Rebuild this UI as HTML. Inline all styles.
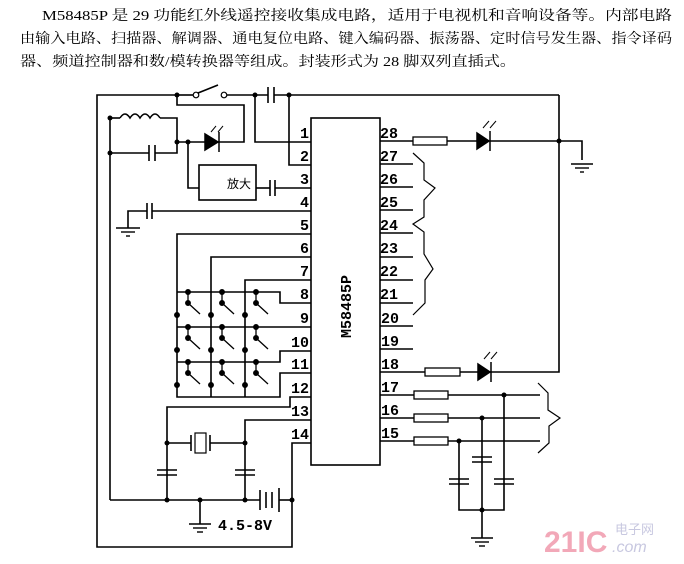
<!DOCTYPE html>
<html><head><meta charset="utf-8"><style>
html,body{margin:0;padding:0;background:#fff;width:684px;height:564px;overflow:hidden}
svg{display:block}
.t{font-family:"Liberation Serif","Noto Serif CJK SC","Noto Sans CJK SC",serif;font-size:14px;fill:#000}
.p{font-family:"Liberation Mono","DejaVu Sans Mono",monospace;font-size:15px;font-weight:bold;fill:#000}
</style></head><body>
<svg width="684" height="564" viewBox="0 0 684 564" xmlns="http://www.w3.org/2000/svg">
<text class="t" x="42" y="20" textLength="630" lengthAdjust="spacingAndGlyphs">M58485P 是 29 功能红外线遥控接收集成电路，适用于电视机和音响设备等。内部电路</text>
<text class="t" x="20" y="43" textLength="652" lengthAdjust="spacingAndGlyphs">由输入电路、扫描器、解调器、通电复位电路、键入编码器、振荡器、定时信号发生器、指令译码</text>
<text class="t" x="20" y="66" textLength="496" lengthAdjust="spacingAndGlyphs">器、频道控制器和数/模转换器等组成。封装形式为 28 脚双列直插式。</text>

<g stroke="#000" stroke-width="1.6" fill="none">
<rect x="311" y="118" width="69" height="347"/>
<polyline points="177,95 97,95 97,547 292,547 292,443 311,443"/>
<line x1="177" y1="95" x2="193" y2="95"/>
<line x1="198" y1="93" x2="218" y2="85"/>
<circle cx="196" cy="95" r="2.8" stroke-width="1.2"/>
<circle cx="224" cy="95" r="2.8" stroke-width="1.2"/>
<line x1="227" y1="95" x2="268" y2="95"/>
<line x1="268" y1="87" x2="268" y2="103"/><line x1="274" y1="87" x2="274" y2="103"/>
<line x1="274" y1="95" x2="559" y2="95"/>
<polyline points="255,95 255,142 311,142"/>
<polyline points="289,95 289,165 311,165"/>
<polyline points="177,95 177,105 244,105 244,142 218,142"/>
<polyline points="110,118 110,500"/>
<line x1="110" y1="118" x2="120" y2="118"/>
<path d="M120,118 q5,-8 10,0 q5,-8 10,0 q5,-8 10,0 q5,-8 10,0"/>
<polyline points="160,118 177,118 177,153 155,153"/>
<line x1="110" y1="153" x2="149" y2="153"/>
<line x1="149" y1="145" x2="149" y2="161"/><line x1="155" y1="145" x2="155" y2="161"/>
<line x1="177" y1="142" x2="205" y2="142"/>
<polyline points="188,142 188,188 199,188"/>
<rect x="199" y="165" width="57" height="35"/>
<line x1="256" y1="188" x2="270" y2="188"/>
<line x1="270" y1="180" x2="270" y2="196"/><line x1="275" y1="180" x2="275" y2="196"/>
<line x1="275" y1="188" x2="311" y2="188"/>
<line x1="311" y1="211" x2="152" y2="211"/>
<line x1="152" y1="203" x2="152" y2="219"/><line x1="147" y1="203" x2="147" y2="219"/>
<polyline points="147,211 128,211 128,228"/>
<polyline points="311,234 177,234 177,397 280,397 280,373 311,373"/>
<polyline points="311,257 211,257 211,397"/>
<polyline points="311,280 245,280 245,397"/>
<polyline points="177,292 280,292 280,303 311,303"/>
<line x1="177" y1="327" x2="311" y2="327"/>
<polyline points="177,362 280,362 280,351 311,351"/>
<polyline points="311,397 290,397 290,407 167,407 167,500"/>
<polyline points="311,420 245,420 245,443"/>
<line x1="167" y1="443" x2="191" y2="443"/><line x1="210" y1="443" x2="245" y2="443"/>
<line x1="191" y1="435" x2="191" y2="451"/><line x1="210" y1="435" x2="210" y2="451"/>
<rect x="195" y="433" width="11" height="20" stroke-width="1.2"/>
<line x1="245" y1="443" x2="245" y2="500"/>
<line x1="157" y1="470" x2="177" y2="470"/><line x1="157" y1="475" x2="177" y2="475"/>
<line x1="235" y1="470" x2="255" y2="470"/><line x1="235" y1="475" x2="255" y2="475"/>
<line x1="110" y1="500" x2="260" y2="500"/>
<line x1="260" y1="490" x2="260" y2="510"/><line x1="266" y1="492" x2="266" y2="508"/><line x1="272" y1="492" x2="272" y2="508"/><line x1="279" y1="488" x2="279" y2="512"/>
<line x1="279" y1="500" x2="292" y2="500"/>
<line x1="200" y1="500" x2="200" y2="524"/>
<line x1="380" y1="141" x2="413" y2="141"/>
<line x1="447" y1="141" x2="477" y2="141"/>
<polyline points="490,141 582,141 582,160"/>
<polyline points="559,95 559,372 490,372"/>
<line x1="380" y1="372" x2="425" y2="372"/><line x1="460" y1="372" x2="478" y2="372"/>
<line x1="380" y1="395" x2="414" y2="395"/><line x1="448" y1="395" x2="540" y2="395"/>
<line x1="380" y1="418" x2="414" y2="418"/><line x1="448" y1="418" x2="540" y2="418"/>
<line x1="380" y1="441" x2="414" y2="441"/><line x1="448" y1="441" x2="540" y2="441"/>
<line x1="380" y1="164" x2="413" y2="164"/><line x1="380" y1="187" x2="413" y2="187"/>
<line x1="380" y1="210" x2="413" y2="210"/><line x1="380" y1="233" x2="413" y2="233"/>
<line x1="380" y1="257" x2="413" y2="257"/><line x1="380" y1="280" x2="413" y2="280"/>
<line x1="380" y1="303" x2="413" y2="303"/><line x1="380" y1="326" x2="413" y2="326"/>
<line x1="380" y1="349" x2="413" y2="349"/>
<path d="M413,153 L424,163 L424,180 L435,188 L424,200 L424,217 L413,224 L424,232 L424,254 L433,269 L425,280 L425,303 L413,315" stroke-width="1.2"/>
<path d="M538,383 L548,393 L548,410 L560,418 L549,426 L549,443 L538,453" stroke-width="1.2"/>
<rect x="413" y="137" width="34" height="8" stroke-width="1.3"/>
<rect x="425" y="368" width="35" height="8" stroke-width="1.3"/>
<rect x="414" y="391" width="34" height="8" stroke-width="1.3"/>
<rect x="414" y="414" width="34" height="8" stroke-width="1.3"/>
<rect x="414" y="437" width="34" height="8" stroke-width="1.3"/>
<polyline points="459,441 459,510 504,510 504,395"/>
<line x1="482" y1="418" x2="482" y2="538"/>
<line x1="449" y1="479" x2="469" y2="479"/><line x1="449" y1="484" x2="469" y2="484"/>
<line x1="472" y1="457" x2="492" y2="457"/><line x1="472" y1="462" x2="492" y2="462"/>
<line x1="494" y1="479" x2="514" y2="479"/><line x1="494" y1="484" x2="514" y2="484"/>
</g>
<g stroke="#000" stroke-width="1.4">
<line x1="116" y1="228" x2="140" y2="228"/><line x1="121" y1="232" x2="135" y2="232"/><line x1="126" y1="236" x2="130" y2="236"/>
<line x1="571" y1="164" x2="593" y2="164"/><line x1="575" y1="168" x2="589" y2="168"/><line x1="580" y1="172" x2="584" y2="172"/>
<line x1="189" y1="524" x2="211" y2="524"/><line x1="193" y1="528" x2="207" y2="528"/><line x1="197" y1="532" x2="203" y2="532"/>
<line x1="471" y1="538" x2="493" y2="538"/><line x1="475" y1="542" x2="489" y2="542"/><line x1="479" y1="546" x2="485" y2="546"/>
</g>
<g fill="#000" stroke="#000" stroke-width="1.5">
<polygon points="205,134 205,150 218,142"/><line x1="219" y1="132" x2="219" y2="152"/>
<polygon points="477,133 477,149 489,141"/><line x1="490" y1="131" x2="490" y2="151"/>
<polygon points="478,364 478,380 490,372"/><line x1="491" y1="362" x2="491" y2="382"/>
<g stroke-width="1"><line x1="211" y1="132" x2="216" y2="126"/><line x1="218" y1="132" x2="223" y2="126"/>
<line x1="483" y1="128" x2="489" y2="121"/><line x1="490" y1="128" x2="496" y2="121"/>
<line x1="484" y1="359" x2="490" y2="352"/><line x1="491" y1="359" x2="497" y2="352"/></g>
</g>
<g fill="#000">
<circle cx="177" cy="95" r="2.5"/><circle cx="255" cy="95" r="2.5"/><circle cx="289" cy="95" r="2.5"/>
<circle cx="110" cy="118" r="2.5"/><circle cx="110" cy="153" r="2.5"/><circle cx="177" cy="142" r="2.5"/><circle cx="188" cy="142" r="2.5"/>
<circle cx="559" cy="141" r="2.5"/>
<circle cx="167" cy="443" r="2.5"/><circle cx="245" cy="443" r="2.5"/>
<circle cx="167" cy="500" r="2.5"/><circle cx="200" cy="500" r="2.5"/><circle cx="245" cy="500" r="2.5"/><circle cx="292" cy="500" r="2.5"/>
<circle cx="459" cy="441" r="2.5"/><circle cx="482" cy="418" r="2.5"/><circle cx="504" cy="395" r="2.5"/><circle cx="482" cy="510" r="2.5"/>
</g>
<g stroke="#000" stroke-width="1.3" fill="#000">
<g id="sw"><circle cx="188" cy="292" r="2.3"/><line x1="188" y1="292" x2="188" y2="302"/><circle cx="188" cy="303" r="2.3"/><line x1="188" y1="303" x2="200" y2="314"/><circle cx="177" cy="315" r="2.3"/></g>
<use href="#sw" x="34" y="0"/><use href="#sw" x="68" y="0"/>
<use href="#sw" x="0" y="35"/><use href="#sw" x="34" y="35"/><use href="#sw" x="68" y="35"/>
<use href="#sw" x="0" y="70"/><use href="#sw" x="34" y="70"/><use href="#sw" x="68" y="70"/>
</g>
<text x="227" y="188" font-family="'Noto Sans CJK SC',sans-serif" font-size="12">放大</text>
<text x="218" y="530" class="p" font-size="14">4.5-8V</text>
<text class="p" transform="translate(351,338) rotate(-90)">M58485P</text>
<g class="p" text-anchor="end">
<text x="309" y="138">1</text><text x="309" y="161">2</text><text x="309" y="184">3</text><text x="309" y="207">4</text>
<text x="309" y="230">5</text><text x="309" y="253">6</text><text x="309" y="276">7</text><text x="309" y="299">8</text>
<text x="309" y="323">9</text><text x="309" y="347">10</text><text x="309" y="369">11</text><text x="309" y="393">12</text>
<text x="309" y="416">13</text><text x="309" y="439">14</text>
</g>
<g class="p">
<text x="380" y="138">28</text><text x="380" y="161">27</text><text x="380" y="184">26</text><text x="380" y="207">25</text>
<text x="380" y="230">24</text><text x="380" y="253">23</text><text x="380" y="276">22</text><text x="380" y="299">21</text>
<text x="381" y="323">20</text><text x="381" y="346">19</text><text x="381" y="369">18</text><text x="381" y="392">17</text>
<text x="381" y="415">16</text><text x="381" y="438">15</text>
</g>
<text x="544" y="552" font-family="'Liberation Sans',sans-serif" font-weight="bold" font-size="30" fill="#f2a8b8">21IC</text>
<text x="615" y="534" font-family="'Noto Sans CJK SC',sans-serif" font-size="13" fill="#c8c8e0">电子网</text>
<text x="612" y="552" font-family="'Liberation Sans',sans-serif" font-style="italic" font-size="16" fill="#c8c8e0">.com</text>
</svg>
</body></html>
